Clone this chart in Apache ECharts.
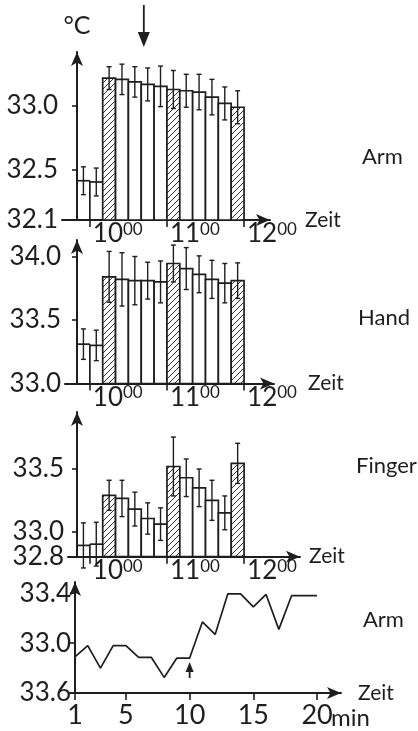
<!DOCTYPE html>
<html><head><meta charset="utf-8">
<script src="https://cdn.jsdelivr.net/npm/echarts@6/dist/echarts.min.js"></script>
<style>html,body{margin:0;padding:0;background:#fff;}#c{width:418px;height:731px;}</style>
</head><body><div id="c"></div>
<script>
// ---- data ----
const times = ['9:50','10:00','10:10','10:20','10:30','10:40','10:50','11:00','11:10','11:20','11:30','11:40','11:50'];
const kinds = ['pre','pre','hatched','open','open','open','open','hatched','open','open','open','open','hatched'];
const armMean  = [32.41, 32.40, 33.22, 33.21, 33.19, 33.17, 33.155, 33.13, 33.12, 33.11, 33.07, 33.02, 32.99];
const armSD    = [0.11, 0.11, 0.09, 0.12, 0.12, 0.13, 0.16, 0.15, 0.13, 0.14, 0.14, 0.13, 0.13];
const handMean = [33.31, 33.30, 33.84, 33.82, 33.81, 33.81, 33.80, 33.945, 33.905, 33.86, 33.82, 33.79, 33.81];
const handSD   = [0.12, 0.12, 0.20, 0.21, 0.19, 0.145, 0.165, 0.145, 0.165, 0.145, 0.15, 0.155, 0.14];
const fingerMean = [32.89, 32.90, 33.29, 33.265, 33.18, 33.105, 33.06, 33.52, 33.43, 33.35, 33.25, 33.15, 33.545];
const fingerSD   = [0.18, 0.175, 0.12, 0.145, 0.135, 0.125, 0.13, 0.235, 0.15, 0.15, 0.16, 0.135, 0.16];
const hourTicks = ['10:00','11:00','12:00'];
const armYLabels = ['32.1','32.5','33.0'];
const handYLabels = ['33.0','33.5','34.0'];
const fingerYLabels = ['32.8','33.0','33.5'];
const minutes = [1,2,3,4,5,6,7,8,9,10,11,12,13,14,15,16,17,18,19,20];
const armMinute = [32.89, 32.98, 32.80, 32.98, 32.98, 32.885, 32.885, 32.725, 32.88, 32.88, 33.17, 33.07, 33.395, 33.395, 33.29, 33.39, 33.11, 33.38, 33.38, 33.38];
const minuteTicks = [1,5,10,15,20];
const minuteYValues = [32.6, 33.0, 33.4];
const minuteYLabels = ['33.6','33.0','33.4'];
const stimulusTime = '10:42';
const stimulusMinute = 10;

// ---- helpers ----
const INK = '#1e1e1e';
const FONT = 'Lato';
const T0 = 9*60+50;
const SLOT = 10;
function toMin(t){ const p=t.split(':'); return (+p[0])*60+(+p[1]) - T0; }
const kindCode = {pre:0, open:1, hatched:2};

const pc = document.createElement('canvas'); pc.width = 6; pc.height = 6;
const g = pc.getContext('2d');
g.fillStyle = '#fff'; g.fillRect(0,0,6,6);
g.strokeStyle = '#333'; g.lineWidth = 1;
g.beginPath(); g.moveTo(0,6); g.lineTo(6,0); g.moveTo(-1,1); g.lineTo(1,-1); g.moveTo(5,7); g.lineTo(7,5); g.stroke();
const hatch = {image: pc, repeat: 'repeat'};

function buildData(mean, sd){
  return times.map((t,i)=>[toMin(t), toMin(t)+SLOT, mean[i], sd[i], kindCode[kinds[i]]]);
}
function renderer(yMin){
  return function(params, api){
    const s = api.value(0), e = api.value(1), m = api.value(2), sd = api.value(3), k = api.value(4);
    const a = api.coord([s, m]), b = api.coord([e, m]);
    const base = api.coord([s, yMin])[1];
    const st = {stroke: INK, lineWidth: 1.7, fill: null};
    const ch = [];
    if (k === 0) {
      ch.push({type:'line', shape:{x1:a[0],y1:a[1],x2:b[0],y2:b[1]}, style:st});
      if (params.dataIndexInside > 0) {
        const prevTop = api.coord([s, api.value(2, params.dataIndexInside-1)])[1];
        ch.push({type:'line', shape:{x1:a[0],y1:base,x2:a[0],y2:Math.min(a[1],prevTop)}, style:st});
      }
    } else {
      ch.push({type:'rect', shape:{x:a[0], y:a[1], width:b[0]-a[0], height:base-a[1]},
        style:{fill: k===2 ? hatch : '#fff', stroke: INK, lineWidth: 1.7}});
    }
    const cx = (a[0]+b[0])/2;
    const t = api.coord([s, m+sd])[1], bt = api.coord([s, m-sd])[1];
    const es = {stroke: INK, lineWidth: 1.4};
    ch.push({type:'line', shape:{x1:cx,y1:t,x2:cx,y2:bt}, style:es});
    ch.push({type:'line', shape:{x1:cx-2.5,y1:t,x2:cx+2.5,y2:t}, style:es});
    ch.push({type:'line', shape:{x1:cx-2.5,y1:bt,x2:cx+2.5,y2:bt}, style:es});
    return {type:'group', children: ch};
  };
}

const axisLineBase = {show:true, symbol:['none','arrow'], symbolSize:[9,14], lineStyle:{color:INK, width:2}};
const hourX = hourTicks.map(toMin);
function hourAxis(idx, min, max, nameGap){
  return {
    type:'value', gridIndex: idx, min, max,
    axisLine: Object.assign({}, axisLineBase, {onZero:false}),
    axisTick: {show:true, customValues: hourX, length:7, lineStyle:{color:INK, width:1.6}},
    axisLabel: {customValues: hourX, align:'left', margin:1, padding:[0,0,0,3], hideOverlap:false,
      formatter: v => { const i = hourX.indexOf(v); const h = hourTicks[i].split(':'); return '{a|'+h[0]+'}{b|'+h[1]+'}'; },
      rich: {a:{fontSize:26, lineHeight:26, fontFamily:FONT, color:INK},
             b:{fontSize:17, lineHeight:16, fontFamily:FONT, color:INK, verticalAlign:'top'}}},
    splitLine:{show:false},
    name:'Zeit', nameLocation:'end', nameGap,
    nameTextStyle:{fontSize:21, fontFamily:FONT, color:INK, verticalAlign:'middle'}
  };
}
function tempAxis(idx, min, max, labels, tickVals, extra){
  const vals = labels.map(Number);
  return Object.assign({
    type:'value', gridIndex: idx, min, max, position:'left',
    axisLine: Object.assign({}, axisLineBase, {onZero:true}),
    axisTick: {show:true, customValues: tickVals || vals, length:5, lineStyle:{color:INK, width:1.6}},
    axisLabel: {customValues: vals, margin:4, fontSize:26, fontFamily:FONT, color:INK,
      hideOverlap:false, showMinLabel:true, showMaxLabel:true,
      formatter: v => labels[vals.indexOf(v)]},
    splitLine:{show:false}
  }, extra || {});
}

const chart = echarts.init(document.getElementById('c'));
chart.setOption({
  animation:false,
  textStyle:{fontFamily:FONT},
  grid:[
    {left:62, top:52, width:208, height:168},
    {left:65, top:240, width:209, height:143.5},
    {left:68, top:412, width:232, height:144.7},
    {left:70, top:582, width:271, height:111}
  ],
  xAxis:[
    hourAxis(0, -11.67, 150.2, 35),
    hourAxis(1, -9.34, 153.3, 34),
    hourAxis(2, -7.0, 173.5, 9),
    {
      type:'value', gridIndex:3, min:0.61, max:21.88,
      axisLine: Object.assign({}, axisLineBase, {onZero:false}),
      axisTick:{show:true, customValues:minuteTicks, length:7, lineStyle:{color:INK, width:1.6}},
      axisLabel:{customValues:minuteTicks, margin:9, fontSize:27, fontFamily:FONT, color:INK, hideOverlap:false, formatter: v => String(v)},
      splitLine:{show:false},
      name:'Zeit', nameLocation:'end', nameGap:17,
      nameTextStyle:{fontSize:21, fontFamily:FONT, color:INK, verticalAlign:'middle', padding:[6,0,0,0]}
    }
  ],
  yAxis:[
    tempAxis(0, 32.1, 33.426, armYLabels, null, {name:'°C', nameLocation:'end', nameGap:14,
      nameTextStyle:{fontSize:25, fontFamily:FONT, color:INK}}),
    tempAxis(1, 33.0, 34.13, handYLabels),
    tempAxis(2, 32.8, 33.955, fingerYLabels.slice(1), [33.0, 33.5]),
    {
      type:'value', gridIndex:3, min:32.6, max:33.49, offset:-5, position:'left',
      axisLine: Object.assign({}, axisLineBase, {onZero:false}),
      axisTick:{show:true, customValues:minuteYValues, length:5, lineStyle:{color:INK, width:1.6}},
      axisLabel:{customValues:minuteYValues, margin:4, fontSize:26, fontFamily:FONT, color:INK,
        hideOverlap:false, showMinLabel:true, showMaxLabel:true,
        formatter: v => minuteYLabels[minuteYValues.indexOf(v)]},
      splitLine:{show:false}
    },
    // second axis on the finger panel carrying only the lowest label (avoids overlap-hiding)
    Object.assign(tempAxis(2, 32.8, 33.955, fingerYLabels.slice(0,1)), {
      axisLine:{show:false, onZero:true}, axisTick:{show:false}
    })
  ],
  series:[
    {type:'custom', xAxisIndex:0, yAxisIndex:0, data: buildData(armMean, armSD), renderItem: renderer(32.1), encode:{x:[0,1], y:2}, silent:true},
    {type:'custom', xAxisIndex:1, yAxisIndex:1, data: buildData(handMean, handSD), renderItem: renderer(33.0), encode:{x:[0,1], y:2}, silent:true},
    {type:'custom', xAxisIndex:2, yAxisIndex:2, data: buildData(fingerMean, fingerSD), renderItem: renderer(32.8), encode:{x:[0,1], y:2}, silent:true},
    {type:'line', xAxisIndex:3, yAxisIndex:3, data: minutes.map((m,i)=>[m, armMinute[i]]),
      showSymbol:false, symbol:'none', lineStyle:{color:INK, width:1.7}, silent:true}
  ]
});

const ax = chart.convertToPixel({xAxisIndex:0}, toMin(stimulusTime));
const ux = chart.convertToPixel({xAxisIndex:3}, stimulusMinute);
const txt = (s, x, y, size) => ({type:'text', x, y, style:{text:s, fill:INK, font: size+'px '+FONT, textAlign:'left', textVerticalAlign:'middle'}});
chart.setOption({
  graphic:[
    txt('Arm', 362, 157, 22),
    txt('Hand', 358, 318, 22),
    txt('Finger', 356, 466, 22),
    txt('Arm', 363, 620, 22),
    txt('min', 331, 718, 24),
    {type:'line', shape:{x1:ax, y1:5, x2:ax, y2:34}, style:{stroke:INK, lineWidth:1.8}},
    {type:'polygon', shape:{points:[[ax-6,32],[ax+6,32],[ax,47]]}, style:{fill:INK}},
    {type:'polygon', shape:{points:[[ux-4,672],[ux+4,672],[ux,662]]}, style:{fill:INK}},
    {type:'line', shape:{x1:ux, y1:670, x2:ux, y2:678}, style:{stroke:INK, lineWidth:1.8}}
  ]
});
</script></body></html>
